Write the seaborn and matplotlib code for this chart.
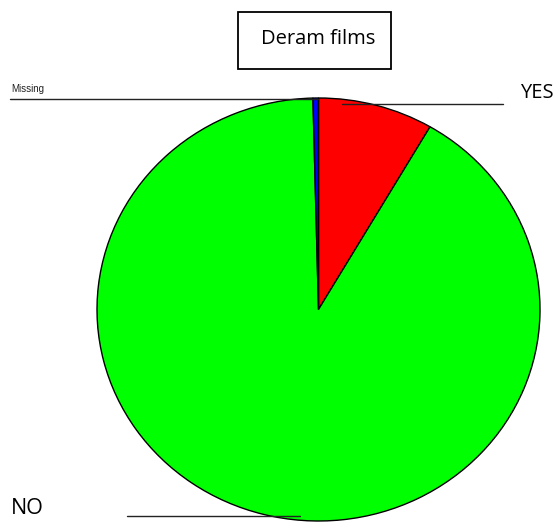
import matplotlib
matplotlib.use("Agg")
import matplotlib.pyplot as plt
from matplotlib.lines import Line2D
import seaborn as sns

categories = ["YES", "NO", "Missing"]
values = [8.4, 91.2, 0.4]
colors = ["#ff0000", "#00ff00", "#0000ff"]
title = "Deram films"

sns.set_theme(style="white")
plt.rcParams['font.family'] = ['Liberation Sans', 'DejaVu Sans']

W, H = 557, 523
fig = plt.figure(figsize=(W / 100, H / 100), dpi=100)
fig.patch.set_facecolor("white")

def fx(x):
    return x / W

def fy(y):
    return 1 - y / H

# pie axes: ellipse spans x 97-540, y 98-521
ax = fig.add_axes([fx(97), fy(521), (540 - 97) / W, (521 - 98) / H])
ax.pie(values, colors=colors, startangle=90, counterclock=False,
       wedgeprops=dict(edgecolor="black", linewidth=1.0))
ax.set_aspect("auto")
ax.set_xlim(-1, 1)
ax.set_ylim(-1, 1)
ax.axis("off")

# title box
fig.add_artist(plt.Rectangle((fx(238), fy(69)), (391 - 238) / W, (69 - 12) / H,
                             transform=fig.transFigure, fill=False,
                             edgecolor="black", linewidth=1.3))
fig.text(fx(318), fy(39), title, ha="center", va="center", fontsize=14.5,
         color="black", family=['Open Sans', 'DejaVu Sans'])

# labels with leader lines
fig.text(fx(11), fy(94), categories[2], ha="left", va="bottom", fontsize=7, color="#222222")
fig.add_artist(Line2D([fx(10), fx(318)], [fy(98.5), fy(98.5)], color="#222222", linewidth=1.0))

fig.text(fx(520), fy(93), categories[0], ha="left", va="center", fontsize=14.5, color="black",
         family=['Open Sans', 'DejaVu Sans'])
fig.add_artist(Line2D([fx(342), fx(503)], [fy(104), fy(104)], color="#222222", linewidth=1.0))

fig.text(fx(11), fy(508), categories[1], ha="left", va="center", fontsize=15.5, color="black",
         family=['Open Sans', 'DejaVu Sans'])
fig.add_artist(Line2D([fx(127), fx(300)], [fy(515.5), fy(515.5)], color="#222222", linewidth=1.0))

fig.savefig("out.png", dpi=100, facecolor="white")
